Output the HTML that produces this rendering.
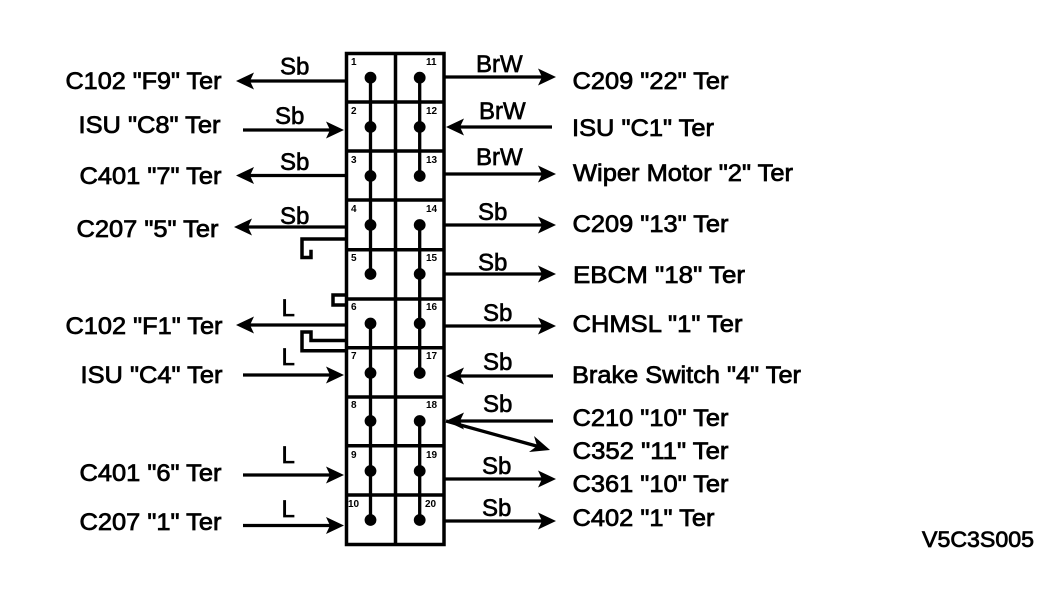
<!DOCTYPE html>
<html>
<head>
<meta charset="utf-8">
<style>
html,body{margin:0;padding:0;background:#fff;width:1056px;height:598px;overflow:hidden}
svg{display:block}
text{font-family:"Liberation Sans",sans-serif;fill:#000}
.t{font-size:24px;stroke:#000;stroke-width:.75px}
.w{font-size:24px;stroke:#000;stroke-width:.65px}
.n{font-size:10px;font-weight:bold}
.l{stroke:#000;stroke-width:3.5;fill:none}
.s{stroke:#000;stroke-width:3.3;fill:none}
.h{fill:#000;stroke:none}
</style>
</head>
<body>
<svg width="1056" height="598" viewBox="0 0 1056 598" xmlns="http://www.w3.org/2000/svg">
<!-- box -->
<rect x="346.5" y="53.5" width="97.5" height="491" class="l"/>
<path class="l" d="M395.5 53V545M346 102H444M346 151H444M346 200H444M346 249.7H444M346 299H444M346 347.7H444M346 397H444M346 445.7H444M346 495H444"/>
<!-- buses -->
<path class="s" d="M370.5 78V274M370.5 323V520M419.7 78V176M419.7 225V373M419.7 421V520"/>
<g class="h">
<circle cx="370.5" cy="77.7" r="5.9"/><circle cx="370.5" cy="127" r="5.9"/><circle cx="370.5" cy="176" r="5.9"/><circle cx="370.5" cy="225" r="5.9"/><circle cx="370.5" cy="274" r="5.9"/><circle cx="370.5" cy="323.5" r="5.9"/><circle cx="370.5" cy="373" r="5.9"/><circle cx="370.5" cy="421" r="5.9"/><circle cx="370.5" cy="471" r="5.9"/><circle cx="370.5" cy="520" r="5.9"/>
<circle cx="419.7" cy="77.7" r="5.9"/><circle cx="419.7" cy="127" r="5.9"/><circle cx="419.7" cy="176" r="5.9"/><circle cx="419.7" cy="225" r="5.9"/><circle cx="419.7" cy="274" r="5.9"/><circle cx="419.7" cy="323.5" r="5.9"/><circle cx="419.7" cy="373" r="5.9"/><circle cx="419.7" cy="421" r="5.9"/><circle cx="419.7" cy="471" r="5.9"/><circle cx="419.7" cy="520" r="5.9"/>
</g>
<!-- jumpers -->
<path class="l" d="M346 239H302V257.5H311V249.7"/>
<path class="l" d="M346 295H333V305H346"/>
<path class="l" d="M346 340.5H311V332H302V350.7H346"/>
<!-- left wires -->
<path class="s" d="M346 81H245M346 175.5H245M346 227H245M346 325H245M243 130H334M243 375H334M243 475H334M243 525.5H334"/>
<g class="h">
<path d="M236 81L254 72.5L250 81L254 89.5Z"/>
<path d="M236 175.5L254 167L250 175.5L254 184Z"/>
<path d="M234 227L252 218.5L248 227L252 235.5Z"/>
<path d="M236 325L254 316.5L250 325L254 333.5Z"/>
<path d="M344 130L326 121.5L330 130L326 138.5Z"/>
<path d="M344 375L326 366.5L330 375L326 383.5Z"/>
<path d="M344 475L326 466.5L330 475L326 483.5Z"/>
<path d="M344 525.5L326 517L330 525.5L326 534Z"/>
</g>
<!-- right wires -->
<path class="s" d="M444 77H545M444 174H545M444 225H545M444 274H545M444 326H545M444 479H545M444 521H545M456 127H552M456 376H553M456 421H553M446 421L540 447"/>
<g class="h">
<path d="M556 77L538 68.5L542 77L538 85.5Z"/>
<path d="M556 174L538 165.5L542 174L538 182.5Z"/>
<path d="M556 225L538 216.5L542 225L538 233.5Z"/>
<path d="M556 274L538 265.5L542 274L538 282.5Z"/>
<path d="M556 326L538 317.5L542 326L538 334.5Z"/>
<path d="M556 479L538 470.5L542 479L538 487.5Z"/>
<path d="M556 521L538 512.5L542 521L538 529.5Z"/>
<path d="M446 127L464 118.5L460 127L464 135.5Z"/>
<path d="M446 376L464 367.5L460 376L464 384.5Z"/>
<path d="M446 421L464 412.5L460 421L464 429.5Z"/>
<path d="M550 450L534 436L537 446L529 452Z"/>
</g>
<!-- pin numbers -->
<g class="n">
<text x="351" y="65">1</text><text x="351" y="114">2</text><text x="351" y="163">3</text><text x="351" y="212">4</text><text x="351" y="261">5</text><text x="351" y="310">6</text><text x="351" y="359">7</text><text x="351" y="408">8</text><text x="351" y="458">9</text><text x="348" y="507">10</text>
<text x="426" y="65">11</text><text x="426" y="114">12</text><text x="426" y="163">13</text><text x="426" y="212">14</text><text x="426" y="261">15</text><text x="426" y="310">16</text><text x="426" y="359">17</text><text x="426" y="408">18</text><text x="426" y="458">19</text><text x="425" y="507">20</text>
</g>
<!-- left terminals -->
<g class="t">
<text x="65.5" y="89" textLength="156" lengthAdjust="spacingAndGlyphs">C102 "F9" Ter</text>
<text x="78.5" y="133" textLength="142" lengthAdjust="spacingAndGlyphs">ISU "C8" Ter</text>
<text x="79.5" y="184" textLength="142" lengthAdjust="spacingAndGlyphs">C401 "7" Ter</text>
<text x="76.5" y="237" textLength="142" lengthAdjust="spacingAndGlyphs">C207 "5" Ter</text>
<text x="65.5" y="334" textLength="157" lengthAdjust="spacingAndGlyphs">C102 "F1" Ter</text>
<text x="80.5" y="383" textLength="142" lengthAdjust="spacingAndGlyphs">ISU "C4" Ter</text>
<text x="79.5" y="481" textLength="142" lengthAdjust="spacingAndGlyphs">C401 "6" Ter</text>
<text x="79.5" y="530" textLength="142" lengthAdjust="spacingAndGlyphs">C207 "1" Ter</text>
<!-- right terminals -->
<text x="572.5" y="89" textLength="156" lengthAdjust="spacingAndGlyphs">C209 "22" Ter</text>
<text x="572" y="136" textLength="142" lengthAdjust="spacingAndGlyphs">ISU "C1" Ter</text>
<text x="573" y="181" textLength="220" lengthAdjust="spacingAndGlyphs">Wiper Motor "2" Ter</text>
<text x="572.5" y="232" textLength="156" lengthAdjust="spacingAndGlyphs">C209 "13" Ter</text>
<text x="573" y="283" textLength="172" lengthAdjust="spacingAndGlyphs">EBCM "18" Ter</text>
<text x="572.5" y="332" textLength="170" lengthAdjust="spacingAndGlyphs">CHMSL "1" Ter</text>
<text x="572" y="383" textLength="229" lengthAdjust="spacingAndGlyphs">Brake Switch "4" Ter</text>
<text x="572.5" y="426" textLength="156" lengthAdjust="spacingAndGlyphs">C210 "10" Ter</text>
<text x="572.5" y="459" textLength="156" lengthAdjust="spacingAndGlyphs">C352 "11" Ter</text>
<text x="572.5" y="492" textLength="156" lengthAdjust="spacingAndGlyphs">C361 "10" Ter</text>
<text x="572.5" y="526" textLength="142" lengthAdjust="spacingAndGlyphs">C402 "1" Ter</text>
<text x="922" y="547" textLength="112" lengthAdjust="spacingAndGlyphs" style="font-size:22px">V5C3S005</text>
</g>
<!-- wire labels -->
<g class="w">
<text x="280" y="74.5">Sb</text>
<text x="275" y="124">Sb</text>
<text x="280" y="170">Sb</text>
<text x="280" y="224">Sb</text>
<text x="281.5" y="316">L</text>
<text x="281.5" y="365">L</text>
<text x="281.5" y="463">L</text>
<text x="281.5" y="517">L</text>
<text x="476" y="72">BrW</text>
<text x="479" y="119">BrW</text>
<text x="476" y="165">BrW</text>
<text x="478" y="220">Sb</text>
<text x="478" y="270.5">Sb</text>
<text x="483" y="321">Sb</text>
<text x="483" y="370">Sb</text>
<text x="483" y="412">Sb</text>
<text x="482" y="474">Sb</text>
<text x="482" y="516">Sb</text>
</g>
</svg>
</body>
</html>
